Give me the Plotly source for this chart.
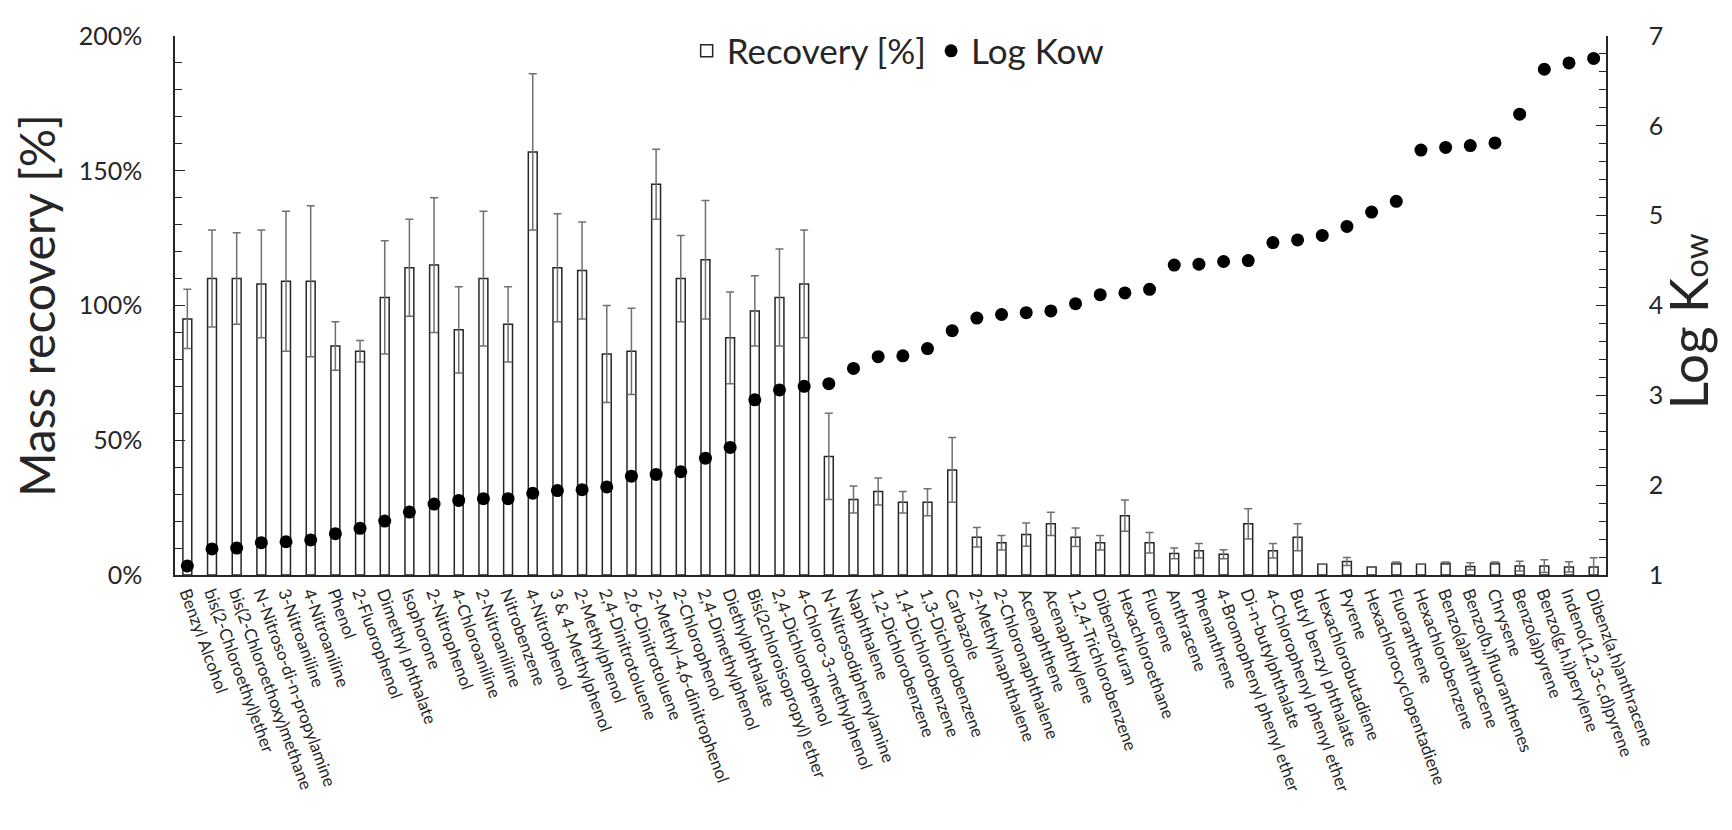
import plotly.graph_objects as go

compounds = [
    "Benzyl Alcohol", "bis(2-Chloroethyl)ether", "bis(2-Chloroethoxy)methane",
    "N-Nitroso-di-n-propylamine", "3-Nitroaniline", "4-Nitroaniline", "Phenol",
    "2-Fluorophenol", "Dimethyl phthalate", "Isophorone", "2-Nitrophenol",
    "4-Chloroaniline", "2-Nitroaniline", "Nitrobenzene", "4-Nitrophenol",
    "3 & 4-Methylphenol", "2-Methylphenol", "2,4-Dinitrotoluene", "2,6-Dinitrotoluene",
    "2-Methyl-4,6-dinitrophenol", "2-Chlorophenol", "2,4-Dimethylphenol",
    "Diethylphthalate", "Bis(2chloroisopropyl) ether", "2,4-Dichlorophenol",
    "4-Chloro-3-methylphenol", "N-Nitrosodiphenylamine", "Naphthalene",
    "1,2-Dichlorobenzene", "1,4-Dichlorobenzene", "1,3-Dichlorobenzene", "Carbazole",
    "2-Methylnaphthalene", "2-Chloronaphthalene", "Acenaphthene", "Acenaphthylene",
    "1,2,4-Trichlorobenzene", "Dibenzofuran", "Hexachloroethane", "Fluorene",
    "Anthracene", "Phenanthrene", "4-Bromophenyl phenyl ether", "Di-n-butylphthalate",
    "4-Chlorophenyl phenyl ether", "Butyl benzyl phthalate", "Hexachlorobutadiene",
    "Pyrene", "Hexachlorocyclopentadiene", "Fluoranthene", "Hexachlorobenzene",
    "Benzo(a)anthracene", "Benzo(b,)fluoranthenes", "Chrysene", "Benzo(a)pyrene",
    "Benzo(g,h,i)perylene", "Indeno(1,2,3-c,d)pyrene", "Dibenz(a,h)anthracene",
]

recovery = [
    95, 110, 110, 108, 109, 109, 85, 83, 103, 114,
    115, 91, 110, 93, 157, 114, 113, 82, 83, 145,
    110, 117, 88, 98, 103, 108, 44, 28, 31, 27,
    27, 39, 14, 12, 15, 19, 14, 12, 22, 12,
    8, 9, 7.7, 19, 9, 14, 4, 5, 3, 4.4,
    4, 4.4, 3.2, 4.4, 3.3, 3.3, 3.0, 3.0,
]

recovery_sd = [
    11, 18, 17, 20, 26, 28, 9, 4, 21, 18,
    25, 16, 25, 14, 29, 20, 18, 18, 16, 13,
    16, 22, 17, 13, 18, 20, 16, 5, 5, 4,
    5, 12, 3.6, 2.7, 4.3, 4.3, 3.4, 2.7, 5.8, 3.8,
    2, 2.7, 1.7, 5.6, 2.7, 5, None, 1.5, None, 0.4,
    None, 0.4, 1.3, 0.4, 1.8, 2.4, 1.9, 3.4,
]

log_kow = [
    1.10, 1.29, 1.30, 1.36, 1.37, 1.39, 1.46, 1.52, 1.60, 1.70,
    1.79, 1.83, 1.85, 1.85, 1.91, 1.94, 1.95, 1.98, 2.10, 2.12,
    2.15, 2.30, 2.42, 2.95, 3.06, 3.10, 3.13, 3.30, 3.43, 3.44,
    3.52, 3.72, 3.86, 3.90, 3.92, 3.94, 4.02, 4.12, 4.14, 4.18,
    4.45, 4.46, 4.49, 4.50, 4.70, 4.73, 4.78, 4.88, 5.04, 5.16,
    5.73, 5.76, 5.78, 5.81, 6.13, 6.63, 6.70, 6.75,
]

ink = "#262626"

fig = go.Figure()
fig.add_trace(go.Bar(
    x=compounds, y=recovery, name="Recovery [%]",
    marker=dict(color="white", line=dict(color=ink, width=1.5)),
    error_y=dict(type="data", array=recovery_sd, symmetric=True,
                 color="#707070", thickness=1.5, width=4),
))
fig.add_trace(go.Scatter(
    x=compounds, y=log_kow, name="Log Kow", yaxis="y2", mode="markers",
    marker=dict(color="black", size=13),
))

# right axis title as an annotation so it can sit close to the edge like the original
fig.add_annotation(
    text="Log K<span style='font-size:33px'>ow</span>",
    xref="paper", yref="paper", x=1.057, y=0.47,
    xanchor="center", yanchor="middle", textangle=-90,
    showarrow=False, font=dict(size=53, color=ink),
)

# page body adds an 8px margin, so the figure is 8px smaller than the window
fig.update_layout(
    width=1724, height=822,
    margin=dict(l=167, r=126, t=19, b=255),
    plot_bgcolor="white", paper_bgcolor="white",
    font=dict(family="Lato", color=ink),
    bargap=0.64,
    showlegend=True,
    legend=dict(orientation="h", x=0.505, xanchor="center", y=0.972, yanchor="middle",
                font=dict(size=35), bgcolor="rgba(0,0,0,0)"),
    xaxis=dict(
        type="category", range=[-0.5, len(compounds) - 0.5],
        tickangle=70, tickfont=dict(size=17),
        showline=True, linecolor=ink, linewidth=1.5, ticks="",
        showgrid=False, zeroline=False,
    ),
    yaxis=dict(
        range=[0, 200], dtick=50, ticksuffix="%", tickfont=dict(size=25),
        ticks="inside", ticklen=10, tickcolor=ink, ticklabelstandoff=26,
        minor=dict(dtick=10, ticks="inside", ticklen=7, tickcolor=ink),
        showline=True, linecolor=ink, linewidth=1.5,
        showgrid=False, zeroline=False,
        title=dict(text="Mass recovery [%]", font=dict(size=48), standoff=10),
    ),
    yaxis2=dict(
        overlaying="y", side="right", range=[1, 7], dtick=1,
        tickfont=dict(size=25),
        ticks="inside", ticklen=10, tickcolor=ink, ticklabelstandoff=36,
        minor=dict(dtick=0.2, ticks="inside", ticklen=7, tickcolor=ink),
        showline=True, linecolor=ink, linewidth=1.5,
        showgrid=False, zeroline=False,
    ),
)

fig.write_html("out.html")
